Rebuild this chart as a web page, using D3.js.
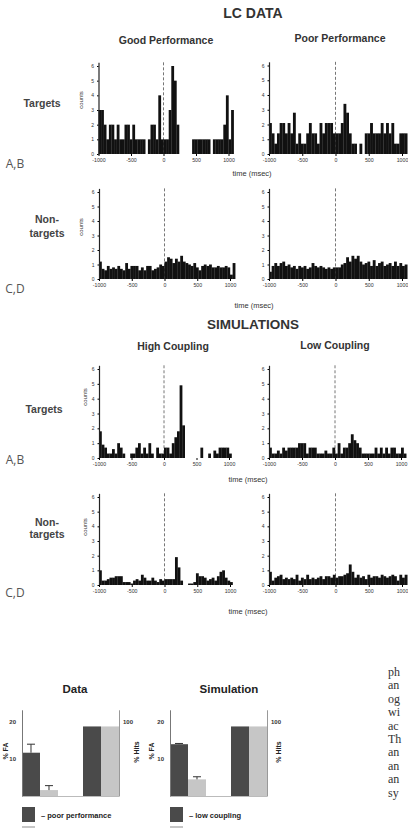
<!DOCTYPE html>
<html>
<head>
<meta charset="utf-8">
<script src="https://cdn.jsdelivr.net/npm/d3@7"></script>
<style>
  body { margin: 0; background: #fff; }
  svg { display: block; font-family: "Liberation Sans", Arial, sans-serif; }
</style>
</head>
<body>
<svg id="fig" width="408" height="828"></svg>
<script>
// 40 ms bins, starting at -1000 ms
var binWidth = 40;
var binStarts = d3.range(-1000, 1080, binWidth);

// LC data, targets
var lcGoodTargets = [3,3,2,1,2,2,1,2,1,1,2,2,1,2,1,1,1,1,0,1,2,2,1,4,1,1,
                     1,3,6,5,2,0,0,0,0,0,1,1,1,1,1,1,1,0,1,1,1,1,2,4,1,3];
var lcPoorTargets = [2.1,1.4,0.7,1.4,2.1,2.1,1.4,2.1,1.4,2.8,0.7,1.4,0.7,0.7,1.4,2.1,1.4,1.4,0.7,2.1,1.4,2.1,2.1,2.1,1.4,1.4,
                     1.4,2.1,3.4,2.8,1.4,0.7,0.7,0,0.7,0,1.4,1.4,2.1,1.4,1.4,1.4,2.1,1.4,2.1,1.4,2.1,0.7,0.7,1.4,1.4,1.4];
// LC data, non-targets
var lcGoodNon = [1.2,0.7,0.6,0.9,0.7,0.8,0.7,0.9,0.7,0.6,1.1,0.7,0.9,0.9,0.9,0.6,0.8,0.6,0.9,0.9,0.6,0.7,0.8,1.0,0.9,1.2,
                 1.5,1.4,1.1,1.4,1.2,1.6,1.2,1.1,1.0,0.9,1.1,0.8,0.6,0.9,1.0,0.9,1.0,0.8,0.8,0.9,0.8,0.8,0.9,0.8,0.3,1.1];
var lcPoorNon = [0.5,0.9,1.1,0.9,1.1,1.2,0.9,1.0,0.8,0.9,0.7,0.9,0.8,0.9,0.7,0.8,1.1,0.9,0.8,0.9,0.8,0.7,0.8,0.7,0.8,0.8,
                 0.8,1.0,1.1,1.5,1.2,1.6,1.4,1.6,1.2,1.0,1.1,1.2,0.9,1.3,0.9,1.1,1.2,0.9,1.0,1.1,0.9,1.2,0.9,1.1,0.9,1.0];
// simulations, targets
var simHighTargets = [1.8,0.9,0.7,0.3,0.3,0.6,0.3,1.0,0.7,0.3,0,0,0.3,0.3,0.7,1.0,0.3,0.7,0.3,1.0,0.3,0,0.7,0.3,0.3,0.7,
                      0.7,0.3,1.0,1.4,1.8,4.9,2.2,0,0,0,0,0,0,0.7,0,0,0.3,0,0.5,0.3,0.7,0.7,0.7,0.7,0.3,0];
var simLowTargets = [0.7,0.3,0.3,0.5,0.3,0.7,0.5,0.7,0.7,0.7,0.7,1.0,1.0,1.0,0.3,0.7,0.7,0.7,0.3,0.3,0.3,0.5,0.3,0.3,0.7,0.3,
                     1.0,0.3,0.7,0.7,1.0,1.6,1.2,1.0,0.7,0.3,0.3,0.3,0.3,0.3,0.7,0.3,0.7,0.3,0.7,0.3,0.7,0.7,0.3,0.3,0.7,0.3];
// simulations, non-targets
var simHighNon = [1.0,0.3,0.3,0.4,0.5,0.5,0.6,0.6,0.6,0.2,0.2,0.2,0.1,0.3,0.4,0.3,0.7,0.5,0.3,0.3,0.5,0.3,0.2,0.4,0.3,0.4,
                  0.4,0.4,0.4,1.9,1.2,0.3,0,0,0.1,0.1,0.2,0.8,0.6,0.6,0.5,0.3,0.4,0.5,0.3,0.6,0.9,1.0,0.5,0.3,0.2,0];
var simLowNon = [0.9,0.3,0.5,0.6,0.7,0.4,0.5,0.4,0.5,0.4,0.7,0.3,0.5,0.4,0.7,0.4,0.5,0.4,0.5,0.6,0.4,0.6,0.6,0.5,0.7,0.5,
                 0.6,0.6,0.7,0.8,1.4,0.9,0.5,0.7,0.5,0.6,0.4,0.7,0.5,0.6,0.6,0.5,0.7,0.6,0.5,0.6,0.7,0.6,0.3,0.7,0.5,0.7];

var countTicks = [0,1,2,3,4,5,6];
var timeTicks = [-1000,-500,0,500,1000];

// bar charts: [dark, light]
var barGroups = ["FA", "Hits"];
var faData = [11.7, 1.6], faDataErr = [2.3, 1.2], hitsData = [94, 94];
var faSim = [14.0, 4.5], faSimErr = [0.2, 0.7], hitsSim = [94, 94];

// cut-off body text at the right edge
var sideText = ["ph","an","og","wi","ac","Th","an","an","an","sy"];

var svg = d3.select("#fig");
var plain = function(d) { return String(d); };

function label(x, y, txt, size, weight, fill, family) {
  var t = svg.append("text")
    .attr("x", x).attr("y", y)
    .attr("text-anchor", "middle")
    .attr("dominant-baseline", "central")
    .attr("font-size", size)
    .attr("font-weight", weight || "normal")
    .attr("fill", fill || "#333")
    .text(txt);
  if (family) t.attr("font-family", family);
  return t;
}

function drawHist(vals, x0, x1, y0, y6) {
  var unit = (y0 - y6) / 6;
  var x = d3.scaleLinear().domain([-1000, 1000]).range([x0, x1]);
  var y = d3.scaleLinear().domain([0, 6.25]).range([y0, y0 - 6.25 * unit]);
  var g = svg.append("g");

  // stimulus onset
  g.append("line")
    .attr("x1", x(0)).attr("x2", x(0))
    .attr("y1", y(6.25)).attr("y2", y(0))
    .attr("stroke", "#777").attr("stroke-width", 1)
    .attr("stroke-dasharray", "3,2");

  g.append("g").selectAll("rect")
    .data(vals)
    .enter().append("rect")
      .attr("x", function(d, i) { return x(binStarts[i]); })
      .attr("width", function(d, i) { return x(binStarts[i] + binWidth) - x(binStarts[i]) + 0.2; })
      .attr("y", function(d) { return y(d); })
      .attr("height", function(d) { return y(0) - y(d); })
      .attr("fill", "#111");

  var ya = g.append("g")
    .attr("transform", "translate(" + x0 + ",0)")
    .call(d3.axisLeft(y).tickValues(countTicks).tickFormat(plain)
      .tickSize(1.5).tickSizeOuter(0).tickPadding(3));
  ya.select(".domain").attr("stroke", "#222").attr("stroke-width", 1.2);
  ya.selectAll("text").attr("font-size", 5).attr("fill", "#333").attr("font-family", "Liberation Sans");

  var xa = g.append("g")
    .attr("transform", "translate(0," + y0 + ")")
    .call(d3.axisBottom(x).tickValues(timeTicks).tickFormat(plain).tickSize(2).tickPadding(2.5));
  xa.select(".domain").remove();
  xa.selectAll("text").attr("font-size", 5.2).attr("fill", "#333").attr("font-family", "Liberation Sans");
}

// headings
label(253, 13, "LC DATA", 14, "bold", "#333");
label(166, 40, "Good Performance", 10.5, "bold", "#333");
label(340, 38, "Poor Performance", 10.5, "bold", "#333");
label(253, 324, "SIMULATIONS", 13.5, "bold", "#333");
label(173, 346, "High Coupling", 10.5, "bold", "#333");
label(335, 345, "Low Coupling", 10.5, "bold", "#333");

// row labels
label(42, 103, "Targets", 10.5, "bold", "#444");
label(47, 219, "Non-", 10.5, "bold", "#444");
label(47, 232.5, "targets", 10.5, "bold", "#444");
label(44, 409, "Targets", 10.5, "bold", "#444");
label(47, 522, "Non-", 10.5, "bold", "#444");
label(47, 534, "targets", 10.5, "bold", "#444");
label(15, 163, "A,B", 12, "normal", "#555", "Open Sans");
label(15, 288, "C,D", 12, "normal", "#555", "Open Sans");
label(15, 459, "A,B", 12, "normal", "#555", "Open Sans");
label(15, 592, "C,D", 12, "normal", "#555", "Open Sans");

// histograms
drawHist(lcGoodTargets, 98.5, 228.5, 154, 66);
drawHist(lcPoorTargets, 269, 402, 154, 65.5);
drawHist(lcGoodNon, 99, 230, 279, 192);
drawHist(lcPoorNon, 269, 402, 279, 192);
drawHist(simHighTargets, 99, 229, 458, 369);
drawHist(simLowTargets, 269, 401, 458, 369);
drawHist(simHighNon, 99, 230, 585, 497);
drawHist(simLowNon, 269, 402, 585, 497);

// axis titles
[[81, 100], [81, 227], [85, 397], [85, 527]].forEach(function(p) {
  label(0, 0, "counts", 6, "normal", "#333")
    .attr("transform", "translate(" + p[0] + "," + p[1] + ") rotate(-90)");
});
[[252, 173], [254, 305], [248, 479], [248, 611]].forEach(function(p) {
  label(p[0], p[1], "time (msec)", 7.5, "normal", "#333");
});

// bar charts
function drawBars(left, right, fa, err, hits, title, titleX, faX, hitsLabelX, legendText) {
  var base = 796, perUnit = 3.7;
  var yFA = d3.scaleLinear().domain([0, 23.3]).range([base, base - 23.3 * perUnit]);
  var yHits = d3.scaleLinear().domain([0, 116.5]).range([base, base - 23.3 * perUnit]);
  var outer = d3.scaleBand().domain(barGroups).range([left, right]).paddingInner(0.41);
  var inner = d3.scaleBand().domain([0, 1]).range([0, outer.bandwidth()]);
  var fills = ["#4a4a4a", "#c6c6c6"];
  var g = svg.append("g");

  label(titleX, 689, title, 11.5, "bold", "#222");

  g.append("line")
    .attr("x1", left).attr("x2", right)
    .attr("y1", base + 0.5).attr("y2", base + 0.5)
    .attr("stroke", "#bbb").attr("stroke-width", 1);

  g.selectAll("rect.fa").data(fa).enter().append("rect")
    .attr("x", function(d, i) { return outer("FA") + inner(i); })
    .attr("width", inner.bandwidth())
    .attr("y", function(d) { return yFA(d); })
    .attr("height", function(d) { return base - yFA(d); })
    .attr("fill", function(d, i) { return fills[i]; });

  g.selectAll("rect.hits").data(hits).enter().append("rect")
    .attr("x", function(d, i) { return outer("Hits") + inner(i); })
    .attr("width", inner.bandwidth())
    .attr("y", function(d) { return yHits(d); })
    .attr("height", function(d) { return base - yHits(d); })
    .attr("fill", function(d, i) { return fills[i]; });

  // error bars
  var cx = function(i) { return outer("FA") + inner(i) + inner.bandwidth() / 2; };
  var eb = g.selectAll("g.err").data(fa).enter().append("g")
    .attr("stroke", "#333").attr("stroke-width", 1);
  eb.append("line")
    .attr("x1", function(d, i) { return cx(i); })
    .attr("x2", function(d, i) { return cx(i); })
    .attr("y1", function(d) { return yFA(d); })
    .attr("y2", function(d, i) { return yFA(d + err[i]); });
  eb.append("line")
    .attr("x1", function(d, i) { return cx(i) - 4; })
    .attr("x2", function(d, i) { return cx(i) + 4; })
    .attr("y1", function(d, i) { return yFA(d + err[i]); })
    .attr("y2", function(d, i) { return yFA(d + err[i]); });

  var la = g.append("g").attr("transform", "translate(" + left + ",0)")
    .call(d3.axisLeft(yFA).tickValues([10, 20]).tickFormat(plain).tickSize(0).tickSizeOuter(0).tickPadding(6));
  la.select(".domain").attr("stroke", "#777");
  la.selectAll("text").attr("font-size", 6).attr("font-weight", "bold").attr("fill", "#333");

  var ra = g.append("g").attr("transform", "translate(" + right + ",0)")
    .call(d3.axisRight(yHits).tickValues([100]).tickFormat(plain).tickSize(0).tickSizeOuter(0).tickPadding(4));
  ra.select(".domain").attr("stroke", "#999");
  ra.selectAll("text").attr("font-size", 6).attr("font-weight", "bold").attr("fill", "#333");

  label(0, 0, "% FA", 7, "bold", "#222")
    .attr("transform", "translate(" + faX + ",751) rotate(-90)");
  label(0, 0, "% Hits", 7, "bold", "#222")
    .attr("transform", "translate(" + hitsLabelX + ",752) rotate(-90)");

  // legend
  g.append("rect").attr("x", left).attr("y", 807).attr("width", 13).attr("height", 15).attr("fill", fills[0]);
  g.append("rect").attr("x", left).attr("y", 826).attr("width", 13).attr("height", 15).attr("fill", fills[1]);
  g.append("text")
    .attr("x", left + 19).attr("y", 815)
    .attr("dominant-baseline", "central")
    .attr("font-size", 7.5).attr("font-weight", "bold").attr("fill", "#222")
    .text("\u2013 " + legendText);
}

drawBars(22, 119, faData, faDataErr, hitsData, "Data", 75, 5, 136, "poor performance");
drawBars(170, 267, faSim, faSimErr, hitsSim, "Simulation", 229, 151, 278, "low coupling");

// body text of the page, cut at the right edge
svg.append("g").selectAll("text")
  .data(sideText)
  .enter().append("text")
    .attr("x", 388)
    .attr("y", function(d, i) { return 676 + i * 13.4; })
    .attr("font-family", "Liberation Serif, serif")
    .attr("font-size", 12)
    .attr("fill", "#333")
    .text(function(d) { return d; });
</script>
</body>
</html>
